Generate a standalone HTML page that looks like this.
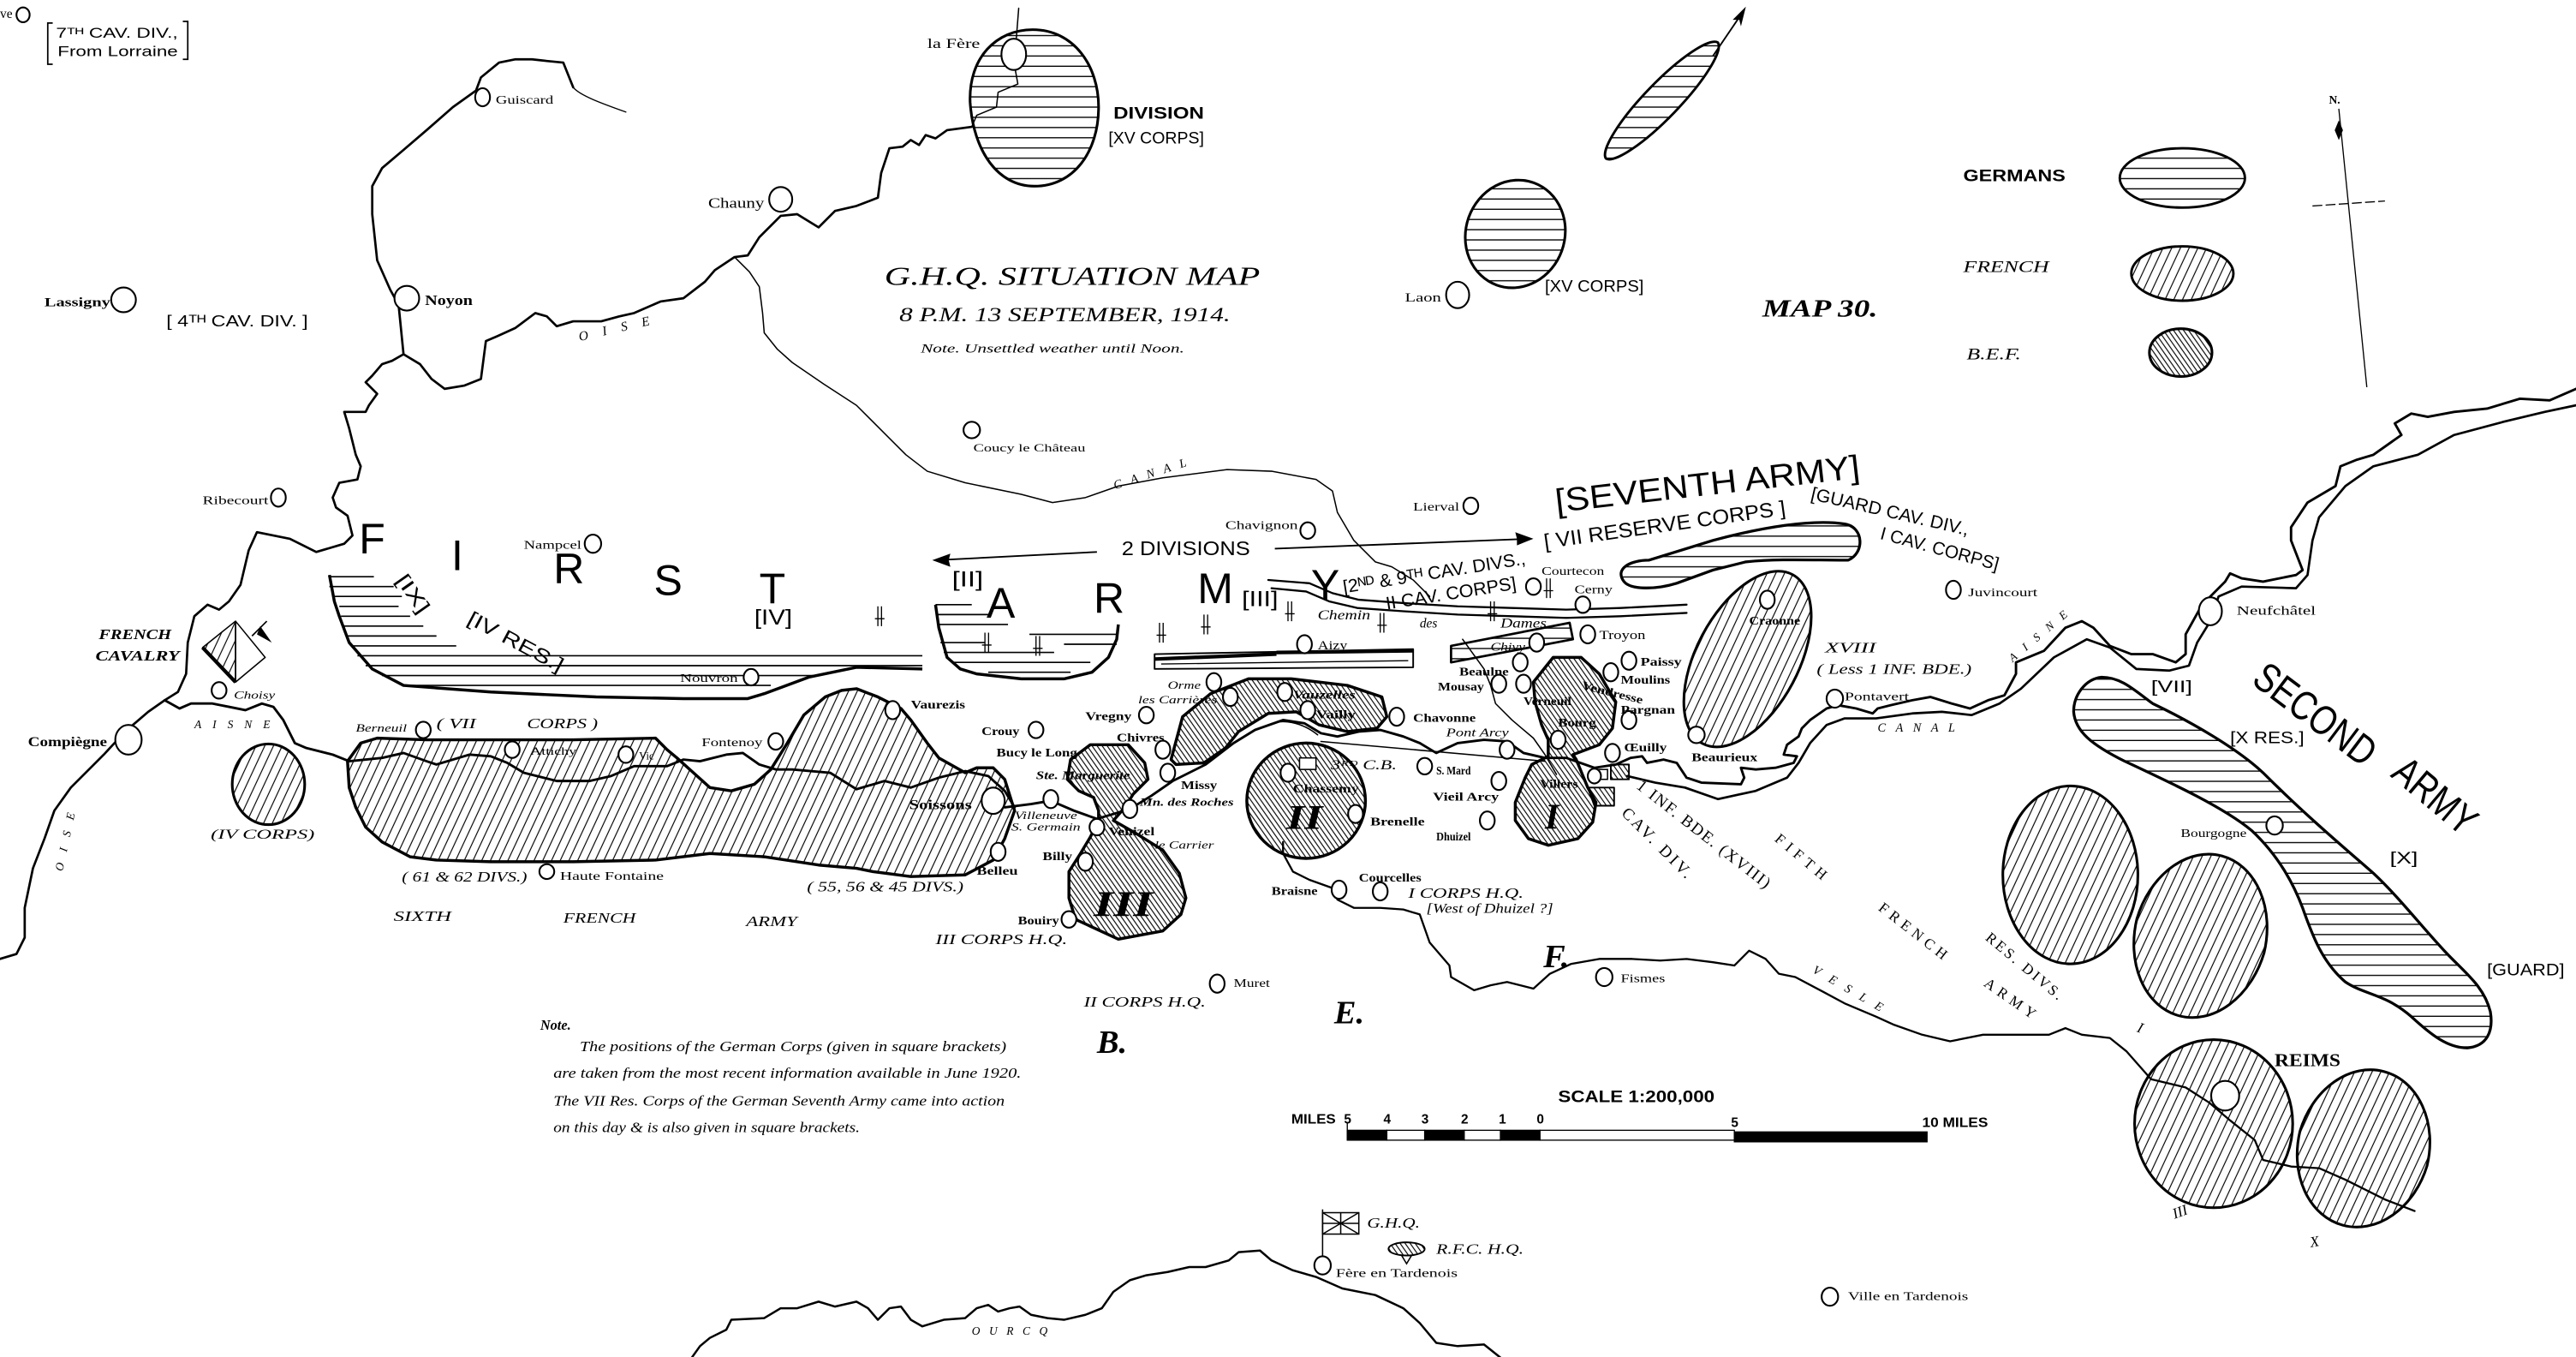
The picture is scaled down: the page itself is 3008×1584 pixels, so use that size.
<!DOCTYPE html>
<html><head><meta charset="utf-8"><title>G.H.Q. Situation Map 13 September 1914</title>
<style>
html,body{margin:0;padding:0;background:#fff;}
svg{display:block}
.s{font-family:"Liberation Serif",serif}
.i{font-style:italic}
.b{font-weight:bold}
.a{font-family:"Liberation Sans",sans-serif}
</style></head><body>
<svg xmlns="http://www.w3.org/2000/svg" width="3008" height="1584" viewBox="0 0 1564 823.6" preserveAspectRatio="none">
<defs>
<pattern id="ger" patternUnits="userSpaceOnUse" width="14" height="6.2"><line x1="0" y1="3" x2="14" y2="3" stroke="#000" stroke-width="0.75"/></pattern>
<pattern id="fr" patternUnits="userSpaceOnUse" width="4.8" height="10" patternTransform="rotate(25)"><line x1="1" y1="0" x2="1" y2="10" stroke="#000" stroke-width="0.6"/></pattern>
<pattern id="bef" patternUnits="userSpaceOnUse" width="2.5" height="10" patternTransform="rotate(-35)"><line x1="1" y1="0" x2="1" y2="10" stroke="#000" stroke-width="0.6"/></pattern>
<g id="tk"><path d="M0,-6V6M2.2,-6V6M-1.8,1.5H4" stroke="#000" stroke-width="0.7" fill="none"/></g>
</defs>
<rect width="1564" height="823.6" fill="#fff"/>

<!-- ============ RIVERS / LINES ============ -->
<g fill="none" stroke="#000" stroke-linejoin="round" stroke-linecap="round">
<path stroke-width="0.7" d="M380,68 C366,63 352,58 348,53"/>
<path stroke-width="1.4" d="M348,53 L342,38 L332,37 L323,36 L313,36 L303,38 L292,47 L289,55 L275,65 L259,79 L245,91 L232,102 L226,113 L226,130 L229,158 L237,176 L242,185 L245,215 L238,219 L232,221 L226,228 L222,232 L229,239 L224,246 L222,250 L209,250 L212,260 L216,276 L219,283 L217,291 L206,293 L202,302 L204,308 L211,313 L214,325 L209,330 L192,335 L176,327 L156,323 L151,334 L146,355 L139,365 L133,370 L126,367 L118,374 L114,390 L113,409 L108,420 L100,425 L90,432 L76,444 L63,458 L43,478 L33,492 L27,509 L20,527 L15,551 L15,569 L10,579 L0,582"/>
<path stroke-width="1.4" d="M245,215 L255,221 L262,230 L270,236 L282,234 L292,230 L295,207 L302,204 L313,199 L325,190 L332,192 L338,198 L348,195 L365,195 L376,192 L385,190 L401,183 L415,181 L428,171 L434,164 L446,156 L454,155 L461,144 L474,131 L484,130 L497,138 L507,128 L520,125 L533,120 L535,105 L540,90 L548,89 L553,85 L558,88 L562,82 L568,84 L575,79 L590,77"/>
<path stroke-width="0.8" d="M590,77 L593,70 L605,65 L606,56 L618,51 L616,40 M618.5,5 L617,24"/>
<path stroke-width="0.8" d="M446,156 L455,165 L461,174 L463,190 L464,202 L472,212 L481,220 L500,233 L520,246 L550,276 L563,286 L586,293 L620,300 L639,305 L659,302 L679,295 L706,290 L745,285 L772,286 L799,291 L809,298 L812,311 L822,328 L835,341 L845,344 L858,352 L868,362"/>
<path stroke-width="1.2" d="M770,352 L795,354 L809,360 L825,364 L852,366 L885,368 L918,369 L951,370 L984,369 L1024,367"/>
<path stroke-width="1.2" d="M772,357 L793,359 L807,365 L824,369 L852,371 L885,373 L918,374 L951,375 L984,374 L1024,372"/>
<path stroke-width="1.5" d="M100,425 L109,430 L116,427 L129,427 L139,429 L149,431 L159,427 L166,429 L172,437 L179,451 L186,454 L202,458 L212,462 L232,460 L245,457 L259,462 L265,464 L285,458 L298,459 L308,463 L318,469 L338,474 L358,474 L371,471 L385,465 L405,465 L415,461 L425,462 L441,458 L451,457 L461,464 L471,467 L481,467 L504,469 L520,479 L537,474 L553,478 L570,472 L586,468 L600,471 L610,480 L616,490"/>
<path stroke-width="1.5" d="M610,490 L626,488 L638,486 L652,492 L666,497 L686,491 L699,483 L712,474 L732,464 L749,451 L762,443 L779,437 L792,439 L802,445 L812,447 L825,444 L838,443 L852,447 L862,451 L872,457 L885,451 L901,449 L915,450 L925,457 L938,460 L951,460 L968,466 L981,464 L990,460 L997,459 L1000,463 L1010,461 L1018,463 L1024,472 L1033,475 L1057,476 L1059,472 L1057,466 L1066,467 L1078,466 L1089,463 L1091,459 L1083,458 L1085,452 L1092,447 L1094,442 L1099,437 L1109,430 L1116,428 L1127,430 L1137,433 L1140,430 L1148,428 L1161,425 L1172,423 L1185,427 L1196,430 L1207,425 L1217,422 L1224,409 L1224,402 L1241,395 L1254,381 L1264,377 L1271,381 L1281,392 L1294,397 L1307,397 L1321,402 L1327,397 L1327,385 L1337,367 L1351,353 L1354,348 L1361,351 L1374,353 L1394,349 L1398,346 L1391,328 L1391,320 L1401,305 L1418,295 L1421,283 L1431,279 L1441,276 L1458,264 L1454,257 L1464,251 L1474,253 L1490,250 L1510,248 L1530,242 L1548,243 L1564,236"/>
<path stroke-width="1.4" d="M988,471 L1005,475 L1023,478 L1043,485 L1066,480 L1085,472 L1092,463 L1099,451 L1109,440 L1120,436 L1139,436 L1161,433 L1179,432 L1197,434 L1214,427 L1227,418 L1247,399 L1267,388 L1281,393 L1297,406 L1317,407 L1329,404 L1334,390 L1342,377 L1347,362 L1361,356 L1394,357 L1401,349 L1404,328 L1408,314 L1424,295 L1441,283 L1468,276 L1490,264 L1520,256 L1545,250 L1564,246"/>
<path stroke-width="0.8" d="M888,388 L901,406 L905,416 L908,427 L918,437 L931,448 L938,458 L945,470"/>
<path stroke-width="0.8" d="M802,450 L938,462"/>
<path stroke-width="0.8" d="M770,440 C778,436 790,438 800,446"/>
<path stroke-width="1.2" d="M779,511 L779,518 L785,529 L795,534 L809,539 L812,546 L822,551 L838,551 L852,552 L862,555 L868,572 L880,586 L881,593 L895,601 L905,598 L915,596 L931,600 L941,591 L954,585 L971,582 L991,582 L1008,583 L1024,582 L1040,584 L1053,586 L1062,577 L1072,582 L1080,591 L1090,593 L1107,602 L1120,609 L1139,617 L1150,622 L1167,628 L1184,632 L1204,628 L1220,628 L1244,628 L1254,624 L1264,628 L1281,630 L1291,638 L1306,655 L1327,660 L1341,669 L1354,680 L1369,692 L1374,704 L1391,708 L1408,709 L1424,716 L1448,728 L1466,735"/>
<path stroke-width="1.3" d="M420,824 L425,817 L431,812 L441,807 L444,801 L464,800 L474,794 L484,794 L497,790 L507,793 L520,790 L527,794 L533,801 L540,794 L547,793 L553,801 L560,805 L573,801 L586,800 L593,794 L600,792 L606,796 L613,794 L619,793 L626,798 L636,800 L646,801 L659,798 L669,794 L676,784 L686,777 L696,774 L709,772 L722,769 L732,769 L746,765 L752,760 L765,759 L772,765 L785,771 L799,775 L815,782 L835,786 L852,794 L862,803 L872,815 L885,817 L901,816 L911,824"/>
</g>

<!-- ============ GERMAN SHAPES ============ -->
<g stroke="#000" stroke-linejoin="round">
<path fill="url(#ger)" stroke-width="1.6" d="M627,18 C652,18 667,40 667,65 C667,92 652,113 628,113 C606,113 591,92 589,62 C588,35 605,18 627,18 Z"/>
<path fill="url(#ger)" stroke-width="1.5" d="M1043,25.8 A49 11 -46 0 1 975,96.2 A49 11 -46 0 1 1043,25.8 Z"/>
<path fill="url(#ger)" stroke-width="1.6" d="M948.2,152.3 A30 33 20 0 1 891.8,131.7 A30 33 20 0 1 948.2,152.3 Z"/>
<ellipse cx="1325" cy="108" rx="38" ry="18" fill="url(#ger)" stroke-width="1.5"/>
<path fill="url(#ger)" stroke-width="1.7" d="M986,353 C980,345 990,340 1001,340 L1040,328 C1070,320 1100,315 1120,318 C1132,320 1132,336 1122,340 C1100,340 1080,339 1060,341 L1040,346 L1018,354 C1005,358 990,358 986,353 Z"/>
<path fill="url(#ger)" stroke-width="1.7" d="M1276,411 C1266,412 1259,422 1259,432 C1260,444 1270,452 1290,462 C1320,476 1350,490 1367,504 C1382,518 1392,535 1398,551 C1404,568 1410,584 1424,596 C1436,604 1448,603 1464,617 C1476,628 1486,636 1498,636 C1510,635 1514,626 1512,614 C1508,598 1496,590 1484,577 C1470,562 1456,544 1441,530 C1425,516 1400,495 1374,469 C1358,454 1330,438 1307,427 C1296,419 1288,411 1276,411 Z"/>
<path fill="url(#ger)" stroke-width="1.4" d="M881,392 L953,378 L955,388 L881,402 Z"/>
<path fill="#fff" stroke-width="1" d="M701,397 L858,394 L858,405 L701,406 Z"/>
<path fill="none" stroke-width="2.2" d="M701,400 L775,397 M775,396 L858,395"/>
<path fill="none" stroke-width="0.7" d="M705,403 L855,401"/>
</g>
<g stroke="#000" stroke-width="0.85" fill="none">
<path d="M200,350H227M200,356H239M202,362H244M206,368H242M207,374H249M209,380H257M211,386H265M214,392H277M217,398H560M222,404H560M232,410H494M245,416H468"/>
<path d="M568,367H590M569,373H600M570,379H612M625,385H679M571,390H598M646,391H678M573,396H640M578,402H662M600,408H650"/>
</g>
<g stroke="#000" stroke-width="1.8" fill="none" stroke-linejoin="round">
<path d="M200,349 L203,365 L206,374 L212,390 L226,406 L245,416 L298,420 L362,423 L415,424 L454,424 L464,421 L491,411 L520,405 L560,406"/>
<path d="M568,367 L570,381 L575,399 L583,406 L593,409 L620,412 L646,412 L663,408 L673,399 L678,388 L679,379"/>
</g>

<!-- ============ FRENCH SHAPES ============ -->
<g stroke="#000" stroke-linejoin="round">
<ellipse cx="1325" cy="166" rx="31" ry="16.5" fill="url(#fr)" stroke-width="1.5"/>
<ellipse cx="163" cy="476" rx="22" ry="24.5" fill="url(#fr)" stroke-width="1.6"/>
<path fill="url(#fr)" stroke-width="1.8" d="M211,462 L219,451 L229,448 L259,449 L298,449 L348,449 L398,448 L405,455 L411,460 L421,469 L431,478 L444,480 L458,476 L468,467 L478,451 L488,434 L501,423 L511,419 L520,418 L533,423 L547,430 L553,437 L563,451 L570,460 L586,469 L593,466 L603,466 L610,473 L616,492 L610,509 L603,522 L586,531 L553,532 L530,529 L520,527 L497,525 L464,520 L431,518 L398,522 L348,523 L298,523 L265,522 L249,520 L232,511 L222,502 L216,490 L212,478 Z"/>
<path fill="url(#fr)" stroke-width="1.6" d="M1088.4,414.6 A31 58 28 0 1 1033.6,385.4 A31 58 28 0 1 1088.4,414.6 Z"/>
<ellipse cx="1257" cy="531" rx="41" ry="54" fill="url(#fr)" stroke-width="1.6"/>
<path fill="url(#fr)" stroke-width="1.6" d="M1374.6,578.4 A40 52 15 0 1 1297.4,557.6 A40 52 15 0 1 1374.6,578.4 Z"/>
<ellipse cx="1344" cy="682" rx="48" ry="51" fill="url(#fr)" stroke-width="1.6"/>
<path fill="url(#fr)" stroke-width="1.6" d="M1473.6,707.4 A40 50 15 0 1 1396.4,686.6 A40 50 15 0 1 1473.6,707.4 Z"/>
<path fill="url(#fr)" stroke-width="0.8" d="M143,377 L123,393 L143,414 Z"/>
<path fill="none" stroke-width="0.8" d="M143,377 L161,399 L143,414 M143,377 V414"/>
<path fill="none" stroke-width="2.2" d="M123,393 L143,414"/>
<path fill="none" stroke-width="0.9" d="M153,386 L162,377"/>
<path fill="#000" stroke="none" d="M158,380 L165,390 L156,385 Z"/>
</g>

<!-- ============ B.E.F. SHAPES ============ -->
<g stroke="#000" stroke-linejoin="round" fill="url(#bef)">
<ellipse cx="1324" cy="214" rx="19" ry="14.5" stroke-width="1.6"/>
<path stroke-width="1.8" d="M650,461 L662,452 L685,452 L695,463 L697,473 L688,482 L683,490 L676,498 L690,506 L706,516 L716,530 L720,545 L717,555 L706,565 L679,570 L653,558 L649,545 L649,529 L656,518 L662,508 L667,498 L667,492 L664,484 L655,480 L648,473 Z"/>
<path stroke-width="1.8" d="M711,461 L718,435 L735,421 L758,412 L784,412 L818,416 L839,423 L842,435 L836,442 L818,444 L801,440 L787,432 L770,433 L752,444 L744,454 L731,463 L714,464 Z"/>
<ellipse cx="793" cy="486" rx="36" ry="35" stroke-width="1.8"/>
<path stroke-width="1.8" d="M931,414 L943,399 L960,399 L971,409 L981,426 L979,442 L971,452 L955,458 L957,461 L964,478 L969,487 L967,499 L958,509 L940,513 L928,509 L920,498 L920,487 L926,472 L930,464 L940,459 L940,449 L936,440 L932,426 Z"/>
<rect x="978" y="464" width="11" height="9" stroke-width="1"/>
<path stroke-width="1" d="M964,478 L980,478 L980,489 L968,489 Z"/>
</g>
<rect x="970" y="467" width="6" height="6" fill="#fff" stroke="#000" stroke-width="0.8"/>
<rect x="789" y="460" width="10" height="7" fill="#fff" stroke="#000" stroke-width="0.8"/>

<!-- ============ TOWN CIRCLES ============ -->
<g fill="#fff" stroke="#000" stroke-width="1.1">
<ellipse cx="14" cy="9" rx="4" ry="4.5"/>
<ellipse cx="293" cy="59" rx="4.5" ry="5.5"/>
<ellipse cx="474" cy="121" rx="7" ry="7.5"/>
<ellipse cx="247" cy="181" rx="7.5" ry="7.5"/>
<ellipse cx="75" cy="182" rx="7.5" ry="7.5"/>
<ellipse cx="615.5" cy="33" rx="7.5" ry="9.5"/>
<ellipse cx="885" cy="179" rx="7" ry="8"/>
<ellipse cx="590" cy="261" rx="5" ry="5"/>
<ellipse cx="169" cy="302" rx="4.5" ry="5.5"/>
<ellipse cx="360" cy="330" rx="5" ry="5.5"/>
<ellipse cx="794" cy="322" rx="4.5" ry="5"/>
<ellipse cx="893" cy="307" rx="4.5" ry="5"/>
<ellipse cx="931" cy="356" rx="4.5" ry="5"/>
<ellipse cx="961" cy="367" rx="4.5" ry="5"/>
<ellipse cx="933" cy="390" rx="4.5" ry="5.5"/>
<ellipse cx="964" cy="385" rx="4.5" ry="5.5"/>
<ellipse cx="792" cy="391" rx="4.5" ry="5.5"/>
<ellipse cx="923" cy="402" rx="4.5" ry="5.5"/>
<ellipse cx="989" cy="401" rx="4.5" ry="5.5"/>
<ellipse cx="978" cy="408" rx="4.5" ry="5.5"/>
<ellipse cx="910" cy="415" rx="4.5" ry="5.5"/>
<ellipse cx="925" cy="415" rx="4.5" ry="5.5"/>
<ellipse cx="989" cy="437" rx="4.5" ry="5.5"/>
<ellipse cx="946" cy="449" rx="4.5" ry="5.5"/>
<ellipse cx="979" cy="457" rx="4.5" ry="5.5"/>
<ellipse cx="1073" cy="364" rx="4.5" ry="5.5"/>
<ellipse cx="1030" cy="446" rx="5" ry="5"/>
<ellipse cx="1186" cy="358" rx="4.5" ry="5.5"/>
<ellipse cx="1114" cy="424" rx="5" ry="5.5"/>
<ellipse cx="1342" cy="371" rx="7" ry="8.5"/>
<ellipse cx="1381" cy="501" rx="5" ry="5.5"/>
<ellipse cx="78" cy="449" rx="8" ry="9"/>
<ellipse cx="133" cy="419" rx="4.5" ry="5"/>
<ellipse cx="257" cy="443" rx="4.5" ry="5"/>
<ellipse cx="311" cy="455" rx="4.5" ry="5"/>
<ellipse cx="380" cy="458" rx="4.5" ry="5"/>
<ellipse cx="471" cy="450" rx="4.5" ry="5"/>
<ellipse cx="456" cy="411" rx="4.5" ry="5"/>
<ellipse cx="332" cy="529" rx="4.5" ry="4.5"/>
<ellipse cx="542" cy="431" rx="4.5" ry="5.5"/>
<ellipse cx="629" cy="443" rx="4.5" ry="5"/>
<ellipse cx="696" cy="434" rx="4.5" ry="5"/>
<ellipse cx="706" cy="455" rx="4.5" ry="5.5"/>
<ellipse cx="603" cy="486" rx="7" ry="8"/>
<ellipse cx="638" cy="485" rx="4.5" ry="5.5"/>
<ellipse cx="666" cy="502" rx="4.5" ry="5"/>
<ellipse cx="709" cy="469" rx="4.5" ry="5.5"/>
<ellipse cx="686" cy="491" rx="4.5" ry="5.5"/>
<ellipse cx="659" cy="523" rx="4.5" ry="5.5"/>
<ellipse cx="606" cy="517" rx="4.5" ry="5.5"/>
<ellipse cx="649" cy="558" rx="4.5" ry="5"/>
<ellipse cx="737" cy="414" rx="4.5" ry="5.5"/>
<ellipse cx="747" cy="423" rx="4.5" ry="5.5"/>
<ellipse cx="780" cy="420" rx="4.5" ry="5.5"/>
<ellipse cx="794" cy="431" rx="4.5" ry="5.5"/>
<ellipse cx="848" cy="435" rx="4.5" ry="5.5"/>
<ellipse cx="915" cy="455" rx="4.5" ry="5.5"/>
<ellipse cx="865" cy="465" rx="4.5" ry="5"/>
<ellipse cx="910" cy="474" rx="4.5" ry="5.5"/>
<ellipse cx="903" cy="498" rx="4.5" ry="5.5"/>
<ellipse cx="813" cy="540" rx="4.5" ry="5.5"/>
<ellipse cx="838" cy="541" rx="4.5" ry="5.5"/>
<ellipse cx="782" cy="469" rx="4.5" ry="5.5"/>
<ellipse cx="823" cy="494" rx="4.5" ry="5.5"/>
<ellipse cx="739" cy="597" rx="4.5" ry="5.5"/>
<ellipse cx="974" cy="593" rx="5" ry="5.5"/>
<ellipse cx="803" cy="768" rx="5" ry="5.5"/>
<ellipse cx="1111" cy="787" rx="5" ry="5.5"/>
<ellipse cx="1351" cy="665" rx="8.5" ry="9"/>
<ellipse cx="968" cy="471" rx="4" ry="4.5"/>
</g>

<use href="#tk" x="533" y="374"/><use href="#tk" x="598" y="390"/><use href="#tk" x="629" y="392"/>
<use href="#tk" x="704" y="384"/><use href="#tk" x="731" y="379"/><use href="#tk" x="782" y="371"/>
<use href="#tk" x="838" y="378"/><use href="#tk" x="905" y="371"/><use href="#tk" x="939" y="357"/>

<g stroke="#000" fill="none" stroke-width="1">
<path d="M666,335 L568,340"/>
<path d="M774,333 L929,327"/>
<path d="M1040,34 L1059,6"/>
</g>
<g fill="#000">
<path d="M566,340 L577,336 L576,340 L577,344 Z"/>
<path d="M931,327 L920,323 L921,327 L921,331 Z"/>
<path d="M1060,4 L1052,12 L1056,12 L1057,16 Z"/>
</g>

<g stroke="#000" fill="none" stroke-width="0.7">
<path d="M1420,66 L1437,235"/>
<path d="M1404,125 L1448,122" stroke-dasharray="6,2"/>
</g>
<path d="M1420,73 L1422.5,79 L1420,85 L1417.5,79 Z" fill="#000"/>

<g stroke="#000" stroke-width="0.7">
<rect x="818" y="686" width="24" height="6" fill="#000"/>
<rect x="842" y="686" width="23" height="6" fill="#fff"/>
<rect x="865" y="686" width="24" height="6" fill="#000"/>
<rect x="889" y="686" width="22" height="6" fill="#fff"/>
<rect x="911" y="686" width="24" height="6" fill="#000"/>
<rect x="935" y="686" width="118" height="6" fill="#fff"/>
<rect x="1053" y="687" width="117" height="6" fill="#000"/>
<path d="M818,681V692" fill="none"/>
</g>

<g stroke="#000" fill="none" stroke-width="0.8">
<path d="M803,734 V763"/>
<rect x="803" y="736" width="22" height="13"/>
<path d="M803,736 L825,749 M825,736 L803,749 M814,736 V749 M803,742.5 H825"/>
</g>
<ellipse cx="854" cy="758" rx="11" ry="4" fill="url(#bef)" stroke="#000" stroke-width="1"/>
<path d="M851,762 L857,762 L854,767 Z" fill="none" stroke="#000" stroke-width="0.8"/>

<g stroke="#000" fill="none" stroke-width="0.9">
<path d="M32,14 H29 V39 H32"/>
<path d="M111,13 H114 V36 H111"/>
</g>

<!-- ============ TEXT ============ -->
<g fill="#000">
<text class="s" x="0" y="11" font-size="8">ve</text>
<text class="a" x="34" y="23" font-size="8.5" textLength="74" lengthAdjust="spacingAndGlyphs">7ᵀᴴ CAV. DIV.,</text>
<text class="a" x="35" y="34" font-size="8.5" textLength="73" lengthAdjust="spacingAndGlyphs">From Lorraine</text>
<text class="a" x="101" y="198" font-size="9.5" textLength="86" lengthAdjust="spacingAndGlyphs">[ 4ᵀᴴ CAV. DIV. ]</text>
<text class="s" x="301" y="63" font-size="7" textLength="35" lengthAdjust="spacingAndGlyphs">Guiscard</text>
<text class="s" x="430" y="126" font-size="9" textLength="34" lengthAdjust="spacingAndGlyphs">Chauny</text>
<text class="s b" x="258" y="185" font-size="9" textLength="29" lengthAdjust="spacingAndGlyphs">Noyon</text>
<text class="s b" x="27" y="186" font-size="7.5" textLength="40" lengthAdjust="spacingAndGlyphs">Lassigny</text>
<text class="s i" x="352" y="207" font-size="8" transform="rotate(-13 352 207)" textLength="44" lengthAdjust="spacing">OISE</text>

<text class="s" x="563" y="29" font-size="8" textLength="32" lengthAdjust="spacingAndGlyphs">la Fère</text>
<text class="a b" x="676" y="72" font-size="10" textLength="55" lengthAdjust="spacingAndGlyphs">DIVISION</text>
<text class="a" x="673" y="87" font-size="10" textLength="58" lengthAdjust="spacingAndGlyphs">[XV CORPS]</text>
<text class="s i" x="537" y="173" font-size="16" textLength="228" lengthAdjust="spacingAndGlyphs">G.H.Q.  SITUATION  MAP</text>
<text class="s i" x="546" y="195" font-size="12" textLength="201" lengthAdjust="spacingAndGlyphs">8 P.M.  13 SEPTEMBER, 1914.</text>
<text class="s i" x="559" y="214" font-size="7.5" textLength="160" lengthAdjust="spacingAndGlyphs">Note.  Unsettled weather until Noon.</text>
<text class="s" x="591" y="274" font-size="6.5" textLength="68" lengthAdjust="spacingAndGlyphs">Coucy le Château</text>
<text class="s" x="853" y="183" font-size="7.5" textLength="22" lengthAdjust="spacingAndGlyphs">Laon</text>
<text class="a" x="938" y="177" font-size="10" textLength="60" lengthAdjust="spacingAndGlyphs">[XV CORPS]</text>

<text class="a b" x="1192" y="110" font-size="10" textLength="62" lengthAdjust="spacingAndGlyphs">GERMANS</text>
<text class="s i" x="1192" y="165" font-size="10" textLength="52" lengthAdjust="spacingAndGlyphs">FRENCH</text>
<text class="s i" x="1194" y="218" font-size="10" textLength="33" lengthAdjust="spacingAndGlyphs">B.E.F.</text>
<text class="s i b" x="1070" y="192" font-size="15" textLength="70" lengthAdjust="spacingAndGlyphs">MAP 30.</text>
<text class="s b" x="1414" y="63" font-size="7">N.</text>

<g class="a" font-size="26">
<text x="218" y="336">F</text><text x="274" y="346">I</text><text x="336" y="354">R</text>
<text x="397" y="361">S</text><text x="461" y="366">T</text>
<text x="599" y="375">A</text><text x="664" y="372">R</text><text x="727" y="366">M</text><text x="796" y="364">Y</text>
</g>
<text class="a" x="240" y="352" font-size="12" transform="rotate(55 240 352)" textLength="26" lengthAdjust="spacingAndGlyphs">[IX]</text>
<text class="a" x="283" y="378" font-size="12" transform="rotate(28 283 378)" textLength="64" lengthAdjust="spacingAndGlyphs">[IV RES.]</text>
<text class="a" x="458" y="379" font-size="13" textLength="23" lengthAdjust="spacingAndGlyphs">[IV]</text>
<text class="a" x="578" y="356" font-size="13" textLength="19" lengthAdjust="spacingAndGlyphs">[II]</text>
<text class="a" x="754" y="368" font-size="13" textLength="22" lengthAdjust="spacingAndGlyphs">[III]</text>
<text class="a" x="681" y="337" font-size="12" textLength="78" lengthAdjust="spacingAndGlyphs">2 DIVISIONS</text>
<text class="a" x="816" y="360" font-size="11" transform="rotate(-9 816 360)" textLength="112" lengthAdjust="spacingAndGlyphs">[2ᴺᴰ &amp; 9ᵀᴴ CAV. DIVS.,</text>
<text class="a" x="842" y="370" font-size="11" transform="rotate(-9 842 370)" textLength="80" lengthAdjust="spacingAndGlyphs">II CAV. CORPS]</text>
<text class="a" x="945" y="311" font-size="20" transform="rotate(-6.5 945 311)" textLength="186" lengthAdjust="spacingAndGlyphs">[SEVENTH ARMY]</text>
<text class="a" x="938" y="333" font-size="12.5" transform="rotate(-8 938 333)" textLength="148" lengthAdjust="spacingAndGlyphs">[ VII RESERVE CORPS ]</text>
<text class="a" x="1099" y="303" font-size="11" transform="rotate(13 1099 303)" textLength="98" lengthAdjust="spacingAndGlyphs">[GUARD CAV. DIV.,</text>
<text class="a" x="1141" y="327" font-size="11" transform="rotate(15 1141 327)" textLength="74" lengthAdjust="spacingAndGlyphs">I CAV. CORPS]</text>

<text class="s" x="123" y="306" font-size="7" textLength="40" lengthAdjust="spacingAndGlyphs">Ribecourt</text>
<text class="s" x="318" y="333" font-size="7" textLength="35" lengthAdjust="spacingAndGlyphs">Nampcel</text>
<text class="s" x="744" y="321" font-size="7" textLength="44" lengthAdjust="spacingAndGlyphs">Chavignon</text>
<text class="s" x="858" y="310" font-size="7" textLength="28" lengthAdjust="spacingAndGlyphs">Lierval</text>
<text class="s i" x="677" y="297" font-size="7.5" transform="rotate(-18 677 297)" textLength="46" lengthAdjust="spacing">CANAL</text>
<text class="s" x="936" y="349" font-size="7" textLength="38" lengthAdjust="spacingAndGlyphs">Courtecon</text>
<text class="s" x="956" y="360" font-size="7" textLength="23" lengthAdjust="spacingAndGlyphs">Cerny</text>
<text class="s i" x="800" y="376" font-size="8" textLength="32" lengthAdjust="spacingAndGlyphs">Chemin</text>
<text class="s i" x="862" y="381" font-size="8">des</text>
<text class="s i" x="911" y="381" font-size="8" textLength="28" lengthAdjust="spacingAndGlyphs">Dames</text>
<text class="s" x="971" y="388" font-size="7.5" textLength="28" lengthAdjust="spacingAndGlyphs">Troyon</text>
<text class="s" x="800" y="394" font-size="7.5" textLength="18" lengthAdjust="spacingAndGlyphs">Aizy</text>
<text class="s i" x="905" y="395" font-size="7" textLength="21" lengthAdjust="spacingAndGlyphs">Chivy</text>
<text class="s b" x="886" y="410" font-size="7" textLength="30" lengthAdjust="spacingAndGlyphs">Beaulne</text>
<text class="s b" x="996" y="404" font-size="7" textLength="25" lengthAdjust="spacingAndGlyphs">Paissy</text>
<text class="s b" x="984" y="415" font-size="7" textLength="30" lengthAdjust="spacingAndGlyphs">Moulins</text>
<text class="s b" x="873" y="419" font-size="7" textLength="28" lengthAdjust="spacingAndGlyphs">Mousay</text>
<text class="s b" x="925" y="428" font-size="7" textLength="29" lengthAdjust="spacingAndGlyphs">Verneuil</text>
<text class="s b" x="960" y="418" font-size="7" transform="rotate(14 960 418)" textLength="38" lengthAdjust="spacingAndGlyphs">Vendresse</text>
<text class="s b" x="984" y="433" font-size="7" textLength="33" lengthAdjust="spacingAndGlyphs">Pargnan</text>
<text class="s b" x="946" y="441" font-size="7" textLength="23" lengthAdjust="spacingAndGlyphs">Bourg</text>
<text class="s b" x="986" y="456" font-size="7" textLength="26" lengthAdjust="spacingAndGlyphs">Œuilly</text>
<text class="s b" x="935" y="478" font-size="7" textLength="23" lengthAdjust="spacingAndGlyphs">Villers</text>
<text class="s b" x="1062" y="379" font-size="7" textLength="31" lengthAdjust="spacingAndGlyphs">Craonne</text>
<text class="s b" x="1027" y="462" font-size="7" textLength="40" lengthAdjust="spacingAndGlyphs">Beaurieux</text>
<text class="s" x="1195" y="362" font-size="7" textLength="42" lengthAdjust="spacingAndGlyphs">Juvincourt</text>
<text class="s" x="1120" y="425" font-size="7" textLength="39" lengthAdjust="spacingAndGlyphs">Pontavert</text>
<text class="s" x="1358" y="373" font-size="7.5" textLength="48" lengthAdjust="spacingAndGlyphs">Neufchâtel</text>
<text class="s" x="1324" y="508" font-size="7" textLength="40" lengthAdjust="spacingAndGlyphs">Bourgogne</text>
<text class="s i" x="1108" y="396" font-size="9" textLength="31" lengthAdjust="spacingAndGlyphs">XVIII</text>
<text class="s i" x="1103" y="409" font-size="8.5" textLength="94" lengthAdjust="spacingAndGlyphs">( Less 1 INF. BDE.)</text>
<text class="s i" x="1222" y="402" font-size="7" transform="rotate(-40 1222 402)" textLength="44" lengthAdjust="spacing">AISNE</text>
<text class="s i" x="1140" y="444" font-size="7.5" textLength="47" lengthAdjust="spacing">CANAL</text>
<text class="a" x="1306" y="420" font-size="10" textLength="25" lengthAdjust="spacingAndGlyphs">[VII]</text>
<text class="a" x="-8" y="9" font-size="25" transform="translate(1378,412) rotate(37)" textLength="86" lengthAdjust="spacingAndGlyphs">SECOND</text>
<text class="a" x="-28" y="9" font-size="25" transform="translate(1478,482) rotate(40)" textLength="58" lengthAdjust="spacingAndGlyphs">ARMY</text>
<text class="a" x="1354" y="451" font-size="10" textLength="45" lengthAdjust="spacingAndGlyphs">[X RES.]</text>
<text class="a" x="1451" y="524" font-size="10" textLength="17" lengthAdjust="spacingAndGlyphs">[X]</text>
<text class="a" x="1510" y="592" font-size="10" textLength="47" lengthAdjust="spacingAndGlyphs">[GUARD]</text>

<text class="s i b" x="60" y="388" font-size="9" textLength="44" lengthAdjust="spacingAndGlyphs">FRENCH</text>
<text class="s i b" x="58" y="401" font-size="9" textLength="51" lengthAdjust="spacingAndGlyphs">CAVALRY</text>
<text class="s i" x="142" y="424" font-size="6.5" textLength="25" lengthAdjust="spacingAndGlyphs">Choisy</text>
<text class="s i" x="118" y="442" font-size="7" textLength="46" lengthAdjust="spacing">AISNE</text>
<text class="s b" x="17" y="453" font-size="8" textLength="48" lengthAdjust="spacingAndGlyphs">Compiègne</text>
<text class="s i" x="128" y="509" font-size="8" textLength="63" lengthAdjust="spacingAndGlyphs">(IV CORPS)</text>
<text class="s i" x="38" y="529" font-size="7" transform="rotate(-78 38 529)" textLength="36" lengthAdjust="spacing">OISE</text>
<text class="s i" x="216" y="444" font-size="6.5" textLength="31" lengthAdjust="spacingAndGlyphs">Berneuil</text>
<text class="s i" x="265" y="442" font-size="9" textLength="24" lengthAdjust="spacingAndGlyphs">( VII</text>
<text class="s i" x="320" y="442" font-size="9" textLength="43" lengthAdjust="spacingAndGlyphs">CORPS )</text>
<text class="s" x="322" y="458" font-size="6.5" textLength="28" lengthAdjust="spacingAndGlyphs">Attichy</text>
<text class="s" x="388" y="461" font-size="6.5">Vic</text>
<text class="s" x="426" y="453" font-size="7" textLength="37" lengthAdjust="spacingAndGlyphs">Fontenoy</text>
<text class="s" x="413" y="414" font-size="7" textLength="35" lengthAdjust="spacingAndGlyphs">Nouvron</text>
<text class="s i" x="244" y="535" font-size="8.5" textLength="76" lengthAdjust="spacingAndGlyphs">( 61 &amp; 62 DIVS.)</text>
<text class="s" x="340" y="534" font-size="7" textLength="63" lengthAdjust="spacingAndGlyphs">Haute Fontaine</text>
<text class="s i" x="490" y="541" font-size="8.5" textLength="95" lengthAdjust="spacingAndGlyphs">( 55, 56 &amp; 45 DIVS.)</text>
<text class="s i" x="239" y="559" font-size="9" textLength="35" lengthAdjust="spacingAndGlyphs">SIXTH</text>
<text class="s i" x="342" y="560" font-size="9" textLength="44" lengthAdjust="spacingAndGlyphs">FRENCH</text>
<text class="s i" x="453" y="562" font-size="9" textLength="31" lengthAdjust="spacingAndGlyphs">ARMY</text>

<text class="s b" x="553" y="430" font-size="7" textLength="33" lengthAdjust="spacingAndGlyphs">Vaurezis</text>
<text class="s b" x="596" y="446" font-size="7" textLength="23" lengthAdjust="spacingAndGlyphs">Crouy</text>
<text class="s b" x="659" y="437" font-size="7" textLength="28" lengthAdjust="spacingAndGlyphs">Vregny</text>
<text class="s b" x="678" y="450" font-size="7" textLength="29" lengthAdjust="spacingAndGlyphs">Chivres</text>
<text class="s b" x="605" y="459" font-size="7" textLength="49" lengthAdjust="spacingAndGlyphs">Bucy le Long</text>
<text class="s i b" x="629" y="473" font-size="7" textLength="57" lengthAdjust="spacingAndGlyphs">Ste. Marguerite</text>
<text class="s b" x="552" y="491" font-size="8" textLength="38" lengthAdjust="spacingAndGlyphs">Soissons</text>
<text class="s i" x="616" y="497" font-size="6.5" textLength="38" lengthAdjust="spacingAndGlyphs">Villeneuve</text>
<text class="s i" x="614" y="504" font-size="6.5" textLength="42" lengthAdjust="spacingAndGlyphs">S. Germain</text>
<text class="s b" x="673" y="507" font-size="7" textLength="28" lengthAdjust="spacingAndGlyphs">Venizel</text>
<text class="s b" x="717" y="479" font-size="7" textLength="22" lengthAdjust="spacingAndGlyphs">Missy</text>
<text class="s i b" x="692" y="489" font-size="6.5" textLength="57" lengthAdjust="spacingAndGlyphs">Mn. des Roches</text>
<text class="s i" x="701" y="515" font-size="6.5" textLength="36" lengthAdjust="spacingAndGlyphs">le Carrier</text>
<text class="s b" x="633" y="522" font-size="7" textLength="18" lengthAdjust="spacingAndGlyphs">Billy</text>
<text class="s b" x="593" y="531" font-size="7" textLength="25" lengthAdjust="spacingAndGlyphs">Belleu</text>
<text class="s b" x="618" y="561" font-size="7" textLength="25" lengthAdjust="spacingAndGlyphs">Bouiry</text>
<text class="s i" x="709" y="418" font-size="6.5" textLength="20" lengthAdjust="spacingAndGlyphs">Orme</text>
<text class="s i" x="691" y="427" font-size="6.5" textLength="48" lengthAdjust="spacingAndGlyphs">les Carrières</text>
<text class="s i b" x="785" y="424" font-size="7" textLength="38" lengthAdjust="spacingAndGlyphs">Vauzelles</text>
<text class="s b" x="799" y="436" font-size="7" textLength="24" lengthAdjust="spacingAndGlyphs">Vailly</text>
<text class="s b" x="858" y="438" font-size="7" textLength="38" lengthAdjust="spacingAndGlyphs">Chavonne</text>
<text class="s i" x="878" y="447" font-size="7" textLength="38" lengthAdjust="spacingAndGlyphs">Pont Arcy</text>
<text class="s b" x="785" y="481" font-size="7" textLength="40" lengthAdjust="spacingAndGlyphs">Chassemy</text>
<text class="s b" x="832" y="501" font-size="7" textLength="33" lengthAdjust="spacingAndGlyphs">Brenelle</text>
<text class="s i" x="808" y="467" font-size="8" textLength="40" lengthAdjust="spacingAndGlyphs">3ᴿᴰ C.B.</text>
<text class="s b" x="872" y="470" font-size="7" textLength="21" lengthAdjust="spacingAndGlyphs">S. Mard</text>
<text class="s b" x="870" y="486" font-size="7" textLength="40" lengthAdjust="spacingAndGlyphs">Vieil Arcy</text>
<text class="s b" x="872" y="510" font-size="7" textLength="21" lengthAdjust="spacingAndGlyphs">Dhuizel</text>
<text class="s b" x="772" y="543" font-size="7" textLength="28" lengthAdjust="spacingAndGlyphs">Braisne</text>
<text class="s b" x="825" y="535" font-size="7" textLength="38" lengthAdjust="spacingAndGlyphs">Courcelles</text>
<text class="s i" x="855" y="545" font-size="9" textLength="70" lengthAdjust="spacingAndGlyphs">I CORPS H.Q.</text>
<text class="s i" x="866" y="554" font-size="8" textLength="77" lengthAdjust="spacingAndGlyphs">[West of Dhuizel ?]</text>
<text class="s i" x="568" y="573" font-size="9" textLength="80" lengthAdjust="spacingAndGlyphs">III CORPS H.Q.</text>
<text class="s i" x="658" y="611" font-size="9" textLength="74" lengthAdjust="spacingAndGlyphs">II CORPS H.Q.</text>
<text class="s" x="749" y="599" font-size="7" textLength="22" lengthAdjust="spacingAndGlyphs">Muret</text>
<text class="s" x="984" y="596" font-size="7" textLength="27" lengthAdjust="spacingAndGlyphs">Fismes</text>

<text class="s i b" x="664" y="556" font-size="22" textLength="36" lengthAdjust="spacingAndGlyphs">III</text>
<text class="s i b" x="781" y="503" font-size="21" textLength="22" lengthAdjust="spacingAndGlyphs">II</text>
<text class="s i b" x="938" y="503" font-size="22">I</text>

<text class="s" x="993" y="478" font-size="10" transform="rotate(38 993 478)" textLength="100" lengthAdjust="spacing">1 INF. BDE. (XVIII)</text>
<text class="s" x="984" y="494" font-size="10" transform="rotate(45 984 494)" textLength="56" lengthAdjust="spacing">CAV. DIV.</text>
<text class="s" x="1077" y="510" font-size="9" transform="rotate(40 1077 510)" textLength="38" lengthAdjust="spacing">FIFTH</text>
<text class="s" x="1140" y="552" font-size="9" transform="rotate(38 1140 552)" textLength="50" lengthAdjust="spacing">FRENCH</text>
<text class="s" x="1205" y="570" font-size="9" transform="rotate(40 1205 570)" textLength="58" lengthAdjust="spacing">RES. DIVS.</text>
<text class="s" x="1204" y="598" font-size="9" transform="rotate(35 1204 598)" textLength="36" lengthAdjust="spacing">ARMY</text>
<text class="s i" x="1100" y="590" font-size="7.5" transform="rotate(30 1100 590)" textLength="48" lengthAdjust="spacing">VESLE</text>
<text class="s i" x="1297" y="626" font-size="9" transform="rotate(20 1297 626)">I</text>
<text class="s b" x="1381" y="647" font-size="11" textLength="40" lengthAdjust="spacingAndGlyphs">REIMS</text>
<text class="s i" x="1327" y="731" font-size="9" transform="rotate(160 1327 731)">III</text>
<text class="s i" x="1403" y="757" font-size="9" transform="rotate(-10 1403 757)">X</text>

<text class="s i b" x="666" y="639" font-size="20">B.</text>
<text class="s i b" x="810" y="621" font-size="20">E.</text>
<text class="s i b" x="937" y="587" font-size="20">F.</text>

<text class="s i b" x="328" y="625" font-size="8.5">Note.</text>
<text class="s i" x="352" y="638" font-size="8.5" textLength="259" lengthAdjust="spacingAndGlyphs">The positions of the German Corps (given in square brackets)</text>
<text class="s i" x="336" y="654" font-size="8.5" textLength="284" lengthAdjust="spacingAndGlyphs">are taken from the most recent information available in June 1920.</text>
<text class="s i" x="336" y="671" font-size="8.5" textLength="274" lengthAdjust="spacingAndGlyphs">The VII Res. Corps of the German Seventh Army came into action</text>
<text class="s i" x="336" y="687" font-size="8.5" textLength="186" lengthAdjust="spacingAndGlyphs">on this day &amp; is also given in square brackets.</text>

<text class="a b" x="946" y="669" font-size="10" textLength="95" lengthAdjust="spacingAndGlyphs">SCALE 1:200,000</text>
<g class="a b" font-size="8">
<text x="784" y="682" textLength="27" lengthAdjust="spacingAndGlyphs">MILES</text>
<text x="816" y="682">5</text><text x="840" y="682">4</text><text x="863" y="682">3</text>
<text x="887" y="682">2</text><text x="910" y="682">1</text><text x="933" y="682">0</text>
<text x="1051" y="684">5</text>
<text x="1167" y="684" textLength="40" lengthAdjust="spacingAndGlyphs">10 MILES</text>
</g>

<text class="s i" x="830" y="745" font-size="8.5" textLength="32" lengthAdjust="spacingAndGlyphs">G.H.Q.</text>
<text class="s i" x="872" y="761" font-size="8.5" textLength="53" lengthAdjust="spacingAndGlyphs">R.F.C. H.Q.</text>
<text class="s" x="811" y="775" font-size="7" textLength="74" lengthAdjust="spacingAndGlyphs">Fère en Tardenois</text>
<text class="s i" x="590" y="810" font-size="7" textLength="46" lengthAdjust="spacing">OURCQ</text>
<text class="s" x="1122" y="789" font-size="7" textLength="73" lengthAdjust="spacingAndGlyphs">Ville en Tardenois</text>
</g>
</svg>
</body></html>
